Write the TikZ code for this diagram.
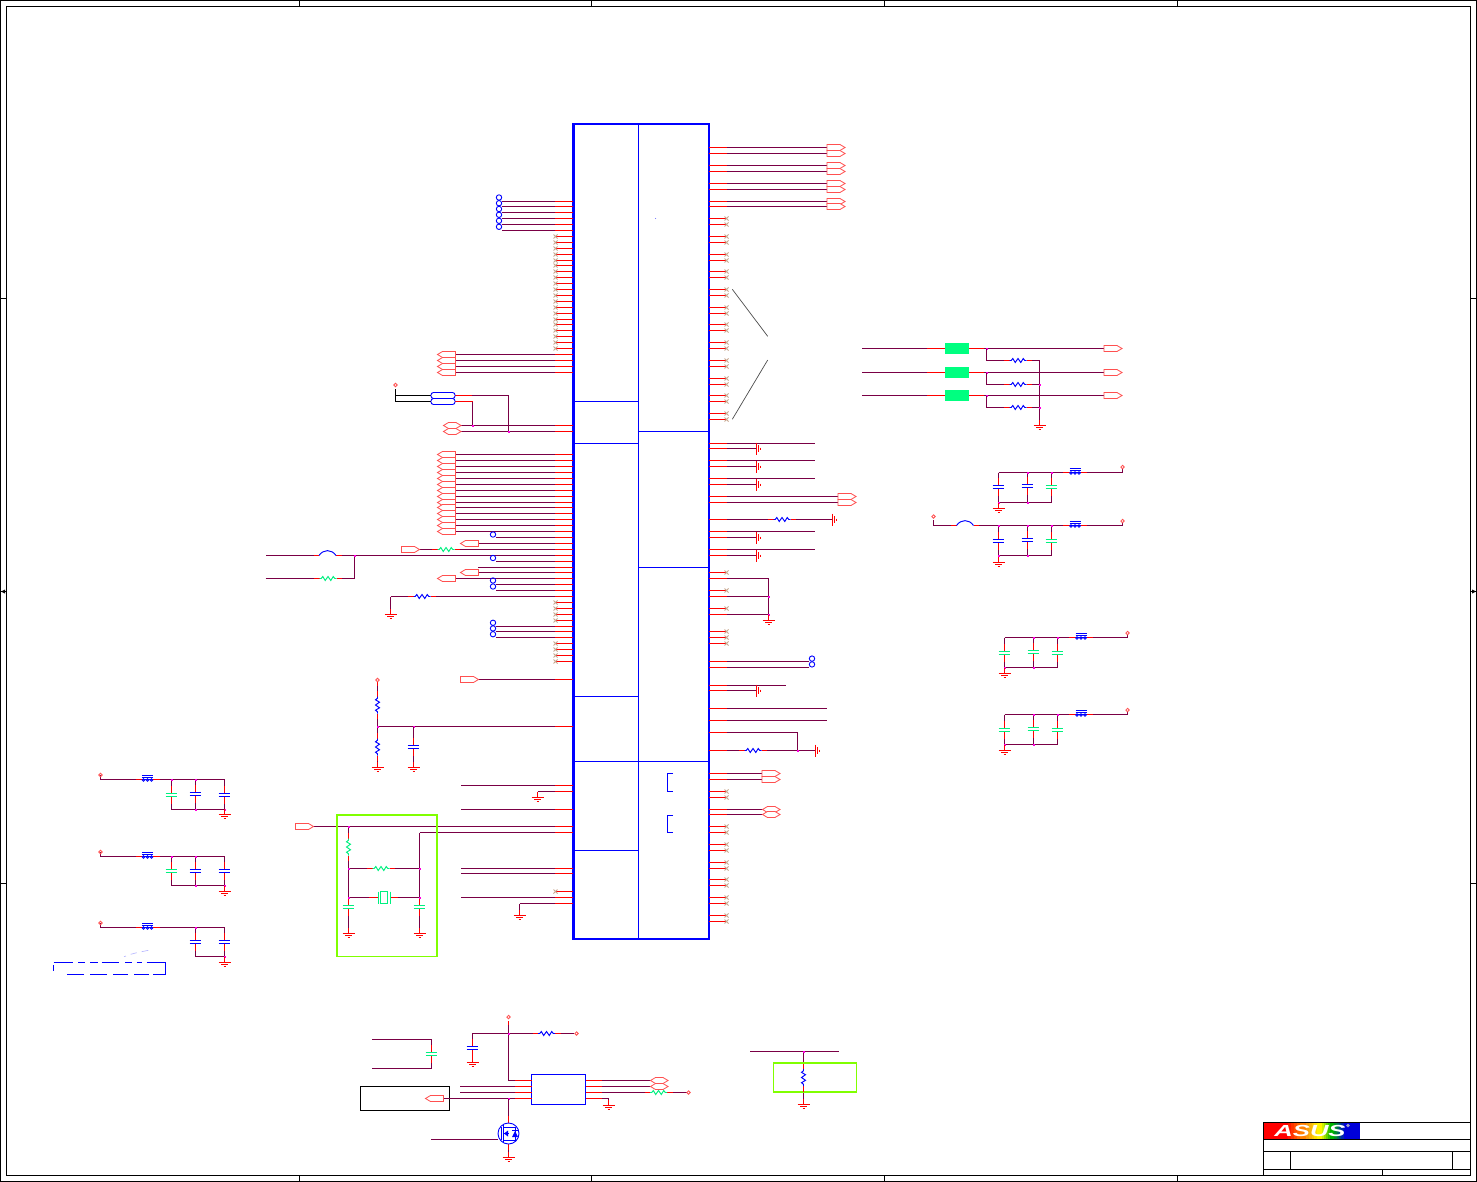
\documentclass[tikz,border=0pt]{standalone}
\usepackage{fontspec}
\usepackage{graphicx}
\setmainfont{Liberation Sans}
\definecolor{wine}{HTML}{7A0045}
\definecolor{pinred}{HTML}{FF0000}
\definecolor{chipblue}{HTML}{0000FF}
\definecolor{capgreen}{HTML}{00F080}
\definecolor{jmag}{HTML}{FF00E0}
\definecolor{limeb}{HTML}{80FF00}
\definecolor{portred}{HTML}{FF5050}
\definecolor{nctan}{HTML}{C8A890}
\definecolor{bgreen}{HTML}{00FF80}
\tikzset{
  wire/.style={draw=wine,line width=1pt},
  stub/.style={draw=pinred,line width=1pt},
  ncx/.style={draw=nctan,line width=0.8pt},
  chipline/.style={draw=chipblue,line width=1pt},
  chipbox/.style={draw=chipblue,line width=2.3pt,inner sep=0pt,outer sep=0pt,minimum width=135.3pt,minimum height=814.8pt},
  ubox/.style={draw=chipblue,line width=1.2pt,inner sep=0pt,outer sep=0pt,minimum width=54pt,minimum height=30pt},
  limebox/.style={draw=limeb,line width=1.9pt},
  conn/.style={draw=portred,line width=0.8pt,fill=white},
  frameline/.style={draw=black,line width=1pt},
  gndline/.style={draw=pinred,line width=1pt},
  blank/.style={fill=white,draw=none},
}
\newcommand\pinL[2]{\draw[wire] (555,#1) -- (#2,#1); \draw[stub] (chip.west |- 0,#1) -- (555,#1);}
\newcommand\pinR[2]{\draw[wire] (727,#1) -- (#2,#1); \draw[stub] (chip.east |- 0,#1) -- (727,#1);}
\newcommand\ncL[1]{\draw[stub] (chip.west |- 0,#1) -- (555.5,#1); \draw[ncx] (553.5,#1-2) -- (557.5,#1+2) (557.5,#1-2) -- (553.5,#1+2);}
\newcommand\ncR[1]{\draw[stub] (chip.east |- 0,#1) -- (726.5,#1); \draw[ncx] (724.5,#1-2) -- (728.5,#1+2) (728.5,#1-2) -- (724.5,#1+2);}
\newcommand\res[4]{\begin{scope}[shift={(#1,#2)},rotate=#3]
  \fill[blank] (-9,-2) rectangle (9,2);
  \draw[stub] (-14,0) -- (-8.5,0) (8.5,0) -- (14,0);
  \draw[draw=#4,line width=0.95pt] (-8.5,0) -- (-6.8,0) -- (-5.2,-2) -- (-2.8,2) -- (0,-2) -- (2.8,2) -- (5.2,-2) -- (6.8,0) -- (8.5,0);
\end{scope}}
\newcommand\capa[3]{\begin{scope}[shift={(#1,#2)}]
  \fill[blank] (-3,-8) rectangle (3,8);
  \draw[stub] (0,-9) -- (0,-1.5) (0,1.5) -- (0,9);
  \draw[draw=#3,line width=1.1pt] (-5.8,-1.5) -- (5.8,-1.5) (-5.8,1.5) -- (5.8,1.5);
\end{scope}}
\newcommand\bead[2]{\begin{scope}[shift={(#1,#2)}]
  \fill[blank] (-7,-5) rectangle (7,3);
  \draw[stub] (-12,0) -- (-5.5,0) (5.5,0) -- (12,0);
  \draw[draw=chipblue,line width=0.9pt] (-5.5,-4) -- (5.5,-4) (-5.5,-2) -- (5.5,-2) (-5.5,0) -- (5.5,0);
  \foreach \k in {-4,0,4} {\draw[draw=chipblue,line width=0.8pt] (\k,0.4) circle (1.3pt);}
\end{scope}}
\newcommand\fuse[2]{\begin{scope}[shift={(#1,#2)}]
  \fill[blank] (-9,-6) rectangle (9,2);
  \draw[stub] (-14,0) -- (-8.5,0) (8.5,0) -- (14,0);
  \draw[draw=chipblue,line width=0.95pt] (-8.5,0) .. controls (-4,-6.5) and (4,-6.5) .. (8.5,0);
\end{scope}}
\newcommand\port[2]{\draw[stub] (#1,#2+2) -- (#1,#2+6); \draw[draw=portred,line width=0.8pt] (#1,#2) circle (1.7pt);}
\newcommand\porth[2]{\draw[draw=portred,line width=0.8pt] (#1,#2) circle (1.7pt);}
\newcommand\jn[2]{\fill[jmag] (#1-1,#2-1) rectangle (#1+1,#2+1);}
\newcommand\oc[2]{\draw[draw=chipblue,line width=0.9pt] (#1,#2) circle (2.7pt);}
\newcommand\gndD[2]{\draw[gndline,line width=1.2pt] (#1-6,#2+.5) -- (#1+6,#2+.5); \draw[gndline] (#1-3.5,#2+2.5) -- (#1+3.5,#2+2.5); \draw[gndline] (#1-1,#2+4.5) -- (#1+1,#2+4.5); \draw[stub] (#1,#2-5) -- (#1,#2);}
\newcommand\gndR[2]{\draw[gndline,line width=1.2pt] (#1+.5,#2-6) -- (#1+.5,#2+6); \draw[gndline] (#1+2.5,#2-3.5) -- (#1+2.5,#2+3.5); \draw[gndline] (#1+4.5,#2-1) -- (#1+4.5,#2+1);}
\newcommand\connR[2]{\draw[conn] (#1,#2-3) -- (#1+13,#2-3) -- (#1+18,#2) -- (#1+13,#2+3) -- (#1,#2+3) -- cycle;}
\newcommand\connL[2]{\draw[conn] (#1+18,#2-3) -- (#1+5,#2-3) -- (#1,#2) -- (#1+5,#2+3) -- (#1+18,#2+3) -- cycle;}
\newcommand\connH[2]{\draw[conn] (#1+5,#2-3) -- (#1+12.5,#2-3) -- (#1+17.5,#2) -- (#1+12.5,#2+3) -- (#1+5,#2+3) -- (#1,#2) -- cycle;}
\begin{document}
\begin{tikzpicture}[x=1pt,y=-1pt]
\useasboundingbox (0,0) rectangle (1477,1182);
\fill[white] (0,0) rectangle (1477,1182);
% frame
\draw[frameline,line width=0.8pt] (0.5,0.5) rectangle (1476.5,1181.5);
\draw[frameline] (6.5,6.5) rectangle (1470.5,1175.5);
\foreach \x in {299.5,591.5,884.5,1177.5} {\draw[frameline,line width=0.7pt] (\x,0.5) -- (\x,6.5) (\x,1175.5) -- (\x,1181.5);}
\foreach \y in {298.5,591.5,883.5} {\draw[frameline,line width=0.7pt] (0.5,\y) -- (6.5,\y) (1470.5,\y) -- (1476.5,\y);}
\fill[black] (1,591.5) -- (5,589.5) -- (5,593.5) -- cycle;
\fill[black] (1476,591.5) -- (1472,589.5) -- (1472,593.5) -- cycle;
% title block
\fill[red] (1263.8,1122.8) rectangle (1285,1138.8);
\foreach \xa/\xb/\ca/\cb in {1285/1303/red/orange,1303/1320/orange/yellow,1320/1332/yellow/green!70!black,1332/1346/green!70!black/blue!85!black} {
  \foreach \t in {0,1,2,3,4,5} {
    \pgfmathsetmacro\xl{\xa+(\xb-\xa)*\t/6}
    \pgfmathsetmacro\xr{\xa+(\xb-\xa)*(\t+1)/6+0.3}
    \pgfmathtruncatemacro\tp{\t*100/5}
    \colorlet{tmpa}{\ca}\colorlet{tmpb}{\cb}
    \fill[tmpb!\tp!tmpa] (\xl,1122.8) rectangle (\xr,1138.8);
  }
}
\fill[blue!85!black] (1346,1122.8) rectangle (1360,1138.8);
\node[inner sep=0pt,text=white] (logo) at (1310,1131) {\scalebox{1.6}[1]{\fontsize{16}{16}\selectfont\bfseries\itshape ASUS}};
\fill[blue!25!gray!60!white] (1348,1125.5) circle (1.8pt);
\draw[frameline] (1263.5,1175.5) -- (1263.5,1122.5) -- (1470.5,1122.5);
\draw[frameline] (1263.5,1139.5) -- (1470.5,1139.5) (1263.5,1151.5) -- (1470.5,1151.5) (1263.5,1169.5) -- (1470.5,1169.5);
\draw[frameline] (1290.5,1151.5) -- (1290.5,1169.5) (1452.5,1151.5) -- (1452.5,1169.5) (1382.5,1169.5) -- (1382.5,1175.5);
% chip
\node[chipbox] (chip) at (641,531.6) {};
\draw[chipline] (638.5,124) -- (638.5,939);
\foreach \y in {401.5,443.5,696.5,761.5,850.5} {\draw[chipline] (573,\y) -- (638.5,\y);}
\foreach \y in {431.5,567.5,761.5} {\draw[chipline] (638.5,\y) -- (709,\y);}
\fill[chipblue!60] (655.5,218.5) circle (0.5pt);
\draw[chipline] (673,773.5) -- (667.5,773.5) -- (667.5,791.5) -- (673,791.5);
\draw[chipline] (673,815.5) -- (667.5,815.5) -- (667.5,832.5) -- (673,832.5);
% left pins: test points
\foreach \y in {201.5,206.5,212.5,218.5,224.5,230.5} {\pinL{\y}{502}}
\foreach \y in {197.5,203.2,209,214.8,220.8,226.8} {\oc{499}{\y}}
\foreach \y in {236.5,242.5,248.5,254.5,260.5,265.5,271.5,277.5,283.5,289.5,295.5,301.5,307.5,313.5,319.5,324.5,330.5,336.5,342.5,348.5} {\ncL{\y}}
\foreach \y in {354.5,360.5,366.5,372.5} {\pinL{\y}{455}}
\foreach \y in {354.5,360.5,366.5,372.5} {\connL{437.5}{\y}}
% capsule group
\draw[draw=black,line width=0.8pt] (395.5,389) -- (395.5,401.5) -- (431,401.5) (395.5,395.5) -- (431,395.5);
\draw[draw=portred,line width=0.8pt] (395.5,385) circle (1.7pt);
\pinL{425.5}{460} \pinL{431.5}{460}
\draw[stub] (455,395.5) -- (472,395.5); \draw[wire] (472,395.5) -- (508.5,395.5) -- (508.5,431.5);
\draw[stub] (455,401.5) -- (472.5,401.5); \draw[wire] (472.5,401.5) -- (472.5,425.5);
\jn{472.5}{425.5} \jn{508.5}{431.5}
\draw[draw=chipblue,line width=0.9pt,rounded corners=2.5pt] (431,392.5) rectangle (455,398.5);
\draw[draw=chipblue,line width=0.9pt,rounded corners=2.5pt] (431,398.5) rectangle (455,404.5);
\connH{443.5}{425.5} \connH{443.5}{431.5}
% big bus
\foreach \y in {454.5,460.5,466.5,472.5,478.5,484.5,490.5,496.5,502.5,507.5,513.5,519.5,525.5,531.5} {\pinL{\y}{455} \connL{437.5}{\y}}
\pinL{537.5}{496} \oc{493}{534.5}
\pinL{543.5}{478} \connL{460.5}{543.5}
\pinL{549.5}{418}
\connR{401.5}{549.5} \res{446}{549.5}{0}{capgreen}
\pinL{555.5}{265.5}
\fuse{327.5}{555.5}
\draw[wire] (265.5,578.5) -- (354.5,578.5) -- (354.5,555.5);
\res{328}{578.5}{0}{capgreen}
\jn{354.5}{555.5}
\pinL{561.5}{496} \oc{493}{558}
\pinL{567.5}{478}
\pinL{572.5}{478} \connL{460.5}{572.5}
\pinL{578.5}{455} \connL{437.5}{578.5}
\pinL{584.5}{496} \oc{493}{580.5}
\pinL{590.5}{496} \oc{493}{586.5}
\pinL{596.5}{390.5}
\draw[wire] (390.5,596.5) -- (390.5,610);
\res{422}{596.5}{0}{chipblue}
\gndD{390.5}{614}
\foreach \y in {602.5,608.5,614.5,620.5,643.5,649.5,655.5,661.5} {\ncL{\y}}
\pinL{626.5}{496} \pinL{631.5}{496} \pinL{637.5}{496}
\oc{493}{622.8} \oc{493}{628.4} \oc{493}{634.2}
\pinL{679.5}{478} \connR{460.5}{679.5}
% divider
\pinL{726.5}{377.5}
\draw[wire] (377.5,686) -- (377.5,762);
\res{377.5}{705}{90}{chipblue} \res{377.5}{747}{90}{chipblue}
\port{377.5}{680}
\jn{377.5}{726.5} \jn{413.5}{726.5}
\draw[wire] (413.5,726.5) -- (413.5,762);
\capa{413.5}{747}{chipblue}
\gndD{377.5}{767} \gndD{413.5}{767}
% lower left pins
\pinL{785.5}{461}
\pinL{791.5}{537.5} \draw[wire] (537.5,791.5) -- (537.5,793); \gndD{537.5}{797}
\pinL{809.5}{461}
\pinL{826.5}{312}
\connR{295.5}{826.5}
\pinL{832.5}{419.5}
\pinL{868.5}{461} \pinL{873.5}{461}
\ncL{891.5}
\pinL{897.5}{461}
\pinL{903.5}{519.5} \draw[wire] (519.5,903.5) -- (519.5,910); \gndD{519.5}{915}
% crystal box
\draw[limebox] (337,815) rectangle (437,956.5);
\draw[wire] (348.5,826.5) -- (348.5,930);
\draw[wire] (419.5,832.5) -- (419.5,930);
\draw[wire] (348.5,868.5) -- (419.5,868.5) (348.5,897.5) -- (419.5,897.5);
\res{348.5}{847}{90}{capgreen}
\res{381}{868.5}{0}{capgreen}
\fill[blank] (376,890) rectangle (392,905);
\draw[stub] (369,897.5) -- (378,897.5) (390.5,897.5) -- (398,897.5);
\draw[draw=capgreen,line width=1.1pt] (380.5,891.5) rectangle (387.5,903.5) (378.5,891.5) -- (378.5,903.5) (390.5,891.5) -- (390.5,903.5);
\capa{348.5}{907}{capgreen} \capa{419.5}{907}{capgreen}
\gndD{348.5}{933} \gndD{419.5}{933}
\jn{348.5}{826.5} \jn{348.5}{868.5} \jn{419.5}{868.5} \jn{348.5}{897.5} \jn{419.5}{897.5}
% right pins: connectors
\foreach \y in {147.5,153.5,165.5,171.5,183.5,189.5,201.5,206.5} {\pinR{\y}{827} \connR{827}{\y}}
\foreach \y in {218.5,224.5,236.5,242.5,254.5,260.5,271.5,277.5,289.5,295.5,307.5,313.5,324.5,330.5,342.5,348.5,360.5,366.5,378.5,384.5,395.5,401.5,413.5,419.5} {\ncR{\y}}
\draw[draw=black!70,line width=0.7pt] (732.3,289.3) -- (767.7,336.3) (732.3,419.3) -- (767.7,360);
% right pins: grounds
\foreach \y in {443.5,460.5,478.5,531.5,549.5} {\pinR{\y}{815}}
\foreach \y in {448.5,466.5,484.5,537.5,555.5} {\pinR{\y}{757} \gndR{756}{\y}}
\pinR{496.5}{838} \pinR{502.5}{838} \connR{838}{496.5} \connR{838}{502.5}
\pinR{519.5}{832} \res{782}{519.5}{0}{chipblue} \gndR{832}{519.5}
\foreach \y in {572.5,590.5,608.5,631.5,637.5,643.5} {\ncR{\y}}
\foreach \y in {578.5,596.5,614.5} {\pinR{\y}{768.5}}
\draw[wire] (768.5,578.5) -- (768.5,616);
\jn{768.5}{596.5} \jn{768.5}{614.5}
\gndD{768.5}{620}
\pinR{661.5}{809} \pinR{667.5}{809} \oc{812}{658.6} \oc{812}{664.4}
\pinR{685.5}{785.5}
\pinR{690.5}{757} \gndR{756}{690.5}
\pinR{708.5}{827} \pinR{720.5}{827}
\pinR{732.5}{797.5} \draw[wire] (797.5,732.5) -- (797.5,750.5);
\pinR{750.5}{815} \res{753}{750.5}{0}{chipblue} \jn{797.5}{750.5} \gndR{815}{750.5}
\pinR{773.5}{762} \pinR{779.5}{762} \connR{762}{773.5} \connR{762}{779.5}
\ncR{791.5} \ncR{797.5}
\pinR{809.5}{762} \pinR{814.5}{762} \connH{762.5}{809.5} \connH{762.5}{814.5}
\foreach \y in {826.5,832.5,844.5,850.5,862.5,868.5,879.5,885.5,897.5,903.5,915.5,921.5} {\ncR{\y}}
% right-hand termination group
\foreach \y in {348.5,372.5,395.5} {
  \draw[wire] (862,\y) -- (1104,\y);
  \draw[stub] (927,\y) -- (945,\y) (969,\y) -- (984,\y);
  \fill[bgreen] (945,\y-5.5) rectangle (969,\y+5.5);
  \connR{1104}{\y}
  \jn{986.5}{\y}
}
\draw[wire] (986.5,348.5) -- (986.5,360.5) -- (1039.5,360.5) -- (1039.5,420);
\draw[wire] (986.5,372.5) -- (986.5,384.5) -- (1039.5,384.5);
\draw[wire] (986.5,395.5) -- (986.5,407.5) -- (1039.5,407.5);
\res{1018}{360.5}{0}{chipblue} \res{1018}{384.5}{0}{chipblue} \res{1018}{407.5}{0}{chipblue}
\jn{1039.5}{384.5} \jn{1039.5}{407.5}
\gndD{1039.5}{425}
% filter groups, right
\draw[wire] (998.5,472.5) -- (1122.5,472.5) -- (1122.5,469);
\draw[wire] (998.5,472.5) -- (998.5,502.5) -- (1051.5,502.5) -- (1051.5,472.5) (1027.5,472.5) -- (1027.5,502.5);
\capa{998.5}{487}{chipblue} \capa{1027.5}{486}{chipblue} \capa{1051.5}{487}{capgreen}
\bead{1075}{472.5} \draw[draw=portred,line width=0.8pt] (1122.5,467) circle (1.7pt);
\jn{1027.5}{472.5} \jn{1051.5}{472.5} \jn{998.5}{502.5} \jn{1027.5}{502.5} \gndD{998.5}{508}
%
\draw[wire] (933.5,520) -- (933.5,525.5) -- (1122.5,525.5) -- (1122.5,522);
\draw[wire] (998.5,525.5) -- (998.5,555.5) -- (1051.5,555.5) -- (1051.5,525.5) (1027.5,525.5) -- (1027.5,555.5);
\capa{998.5}{541}{chipblue} \capa{1027.5}{540}{chipblue} \capa{1051.5}{541}{capgreen}
\bead{1075}{525.5} \fuse{965}{525.5}
\draw[draw=portred,line width=0.8pt] (1122.5,521) circle (1.7pt) (933.5,516.5) circle (1.7pt);
\jn{998.5}{525.5} \jn{1027.5}{525.5} \jn{1051.5}{525.5} \jn{998.5}{555.5} \jn{1027.5}{555.5} \gndD{998.5}{562}
%
\draw[wire] (1004.5,637.5) -- (1127.5,637.5) -- (1127.5,634.5);
\draw[wire] (1004.5,637.5) -- (1004.5,667.5) -- (1057.5,667.5) -- (1057.5,637.5) (1033.5,637.5) -- (1033.5,667.5);
\capa{1004.5}{653}{capgreen} \capa{1033.5}{652}{capgreen} \capa{1057.5}{653}{capgreen}
\bead{1081}{637.5} \draw[draw=portred,line width=0.8pt] (1127.5,633) circle (1.7pt);
\jn{1033.5}{637.5} \jn{1057.5}{637.5} \jn{1004.5}{667.5} \jn{1033.5}{667.5} \gndD{1004.5}{673}
%
\draw[wire] (1004.5,714.5) -- (1127.5,714.5) -- (1127.5,711.5);
\draw[wire] (1004.5,714.5) -- (1004.5,744.5) -- (1057.5,744.5) -- (1057.5,714.5) (1033.5,714.5) -- (1033.5,744.5);
\capa{1004.5}{730}{capgreen} \capa{1033.5}{729}{capgreen} \capa{1057.5}{730}{capgreen}
\bead{1081}{714.5} \draw[draw=portred,line width=0.8pt] (1127.5,710) circle (1.7pt);
\jn{1033.5}{714.5} \jn{1057.5}{714.5} \jn{1004.5}{744.5} \jn{1033.5}{744.5} \gndD{1004.5}{750}
% filter groups, left
\draw[wire] (100.5,775) -- (100.5,779.5) -- (224.5,779.5) -- (224.5,809.5) -- (171.5,809.5) -- (171.5,779.5) (195.5,779.5) -- (195.5,809.5);
\capa{171.5}{795}{capgreen} \capa{195.5}{794}{chipblue} \capa{224.5}{795}{chipblue}
\bead{147.5}{779.5} \draw[draw=portred,line width=0.8pt] (100.5,775) circle (1.7pt);
\jn{171.5}{779.5} \jn{195.5}{779.5} \jn{195.5}{809.5} \jn{224.5}{809.5} \gndD{224.5}{814}
%
\draw[wire] (100.5,852) -- (100.5,856.5) -- (224.5,856.5) -- (224.5,885.5) -- (171.5,885.5) -- (171.5,856.5) (195.5,856.5) -- (195.5,885.5);
\capa{171.5}{871}{capgreen} \capa{195.5}{871}{chipblue} \capa{224.5}{871}{chipblue}
\bead{147.5}{856.5} \draw[draw=portred,line width=0.8pt] (100.5,852) circle (1.7pt);
\jn{171.5}{856.5} \jn{195.5}{856.5} \jn{195.5}{885.5} \jn{224.5}{885.5} \gndD{224.5}{891}
%
\draw[wire] (100.5,923) -- (100.5,927.5) -- (224.5,927.5) -- (224.5,956.5) -- (195.5,956.5) -- (195.5,927.5);
\capa{195.5}{942}{chipblue} \capa{224.5}{942}{chipblue}
\bead{147.5}{927.5} \draw[draw=portred,line width=0.8pt] (100.5,923) circle (1.7pt);
\jn{195.5}{927.5} \jn{224.5}{956.5} \gndD{224.5}{962}
% dashed note frame
\draw[draw=chipblue,line width=0.9pt] (53.5,962.5) -- (73,962.5) (78.3,962.5) -- (85,962.5) (90,962.5) -- (97.5,962.5) (101.7,962.5) -- (119.3,962.5) (125,962.5) -- (131.7,962.5) (136.7,962.5) -- (141.7,962.5) (146.7,962.5) -- (165.5,962.5) -- (165.5,974.5) -- (153,974.5) (149,974.5) -- (133.5,974.5) (128,974.5) -- (113,974.5) (107,974.5) -- (90,974.5) (84,974.5) -- (67,974.5) (53.5,965) -- (53.5,971);
\draw[draw=blue!30,line width=0.6pt] (124,956.7) -- (126,956) (130.7,954.3) -- (136.7,952.7) (141.7,951.7) -- (148.3,950.3);
% bottom circuit: left cap
\draw[wire] (372,1039.5) -- (431.5,1039.5) -- (431.5,1068.5) -- (372,1068.5);
\capa{431.5}{1054}{capgreen}
% bottom circuit: regulator
\node[ubox,anchor=north west] (ureg) at (531.5,1074.5) {};
\draw[wire] (508.5,1021) -- (508.5,1080.5);
\draw[wire] (508.5,1033.5) -- (472.5,1033.5) -- (472.5,1058);
\draw[wire] (508.5,1033.5) -- (574,1033.5);
\capa{472.5}{1048}{chipblue}
\gndD{472.5}{1062}
\res{546.5}{1033.5}{0}{chipblue}
\draw[stub] (508.5,1021) -- (508.5,1025);
\draw[draw=portred,line width=0.8pt] (508.5,1017) circle (1.7pt) (576.5,1033.5) circle (1.7pt);
\jn{508.5}{1033.5}
\draw[draw=black,line width=0.9pt] (360.5,1086.5) rectangle (449.5,1110.5);
\foreach \y/\x in {1080.5/508.5,1086.5/460,1092.5/460,1098.5/443} {
  \draw[wire] (\x,\y) -- (515,\y);
  \draw[stub] (515,\y) -- (ureg.west |- 0,\y);
}
\connL{425.5}{1098.5}
\foreach \y in {1080.5,1086.5,1092.5,1098.5} {\draw[stub] (ureg.east |- 0,\y) -- (602,\y);}
\draw[wire] (602,1080.5) -- (650,1080.5) (602,1086.5) -- (650,1086.5) (602,1092.5) -- (686.5,1092.5);
\connH{650.5}{1080.5} \connH{650.5}{1086.5}
\res{658.5}{1092.5}{0}{capgreen}
\porth{688.5}{1092.5}
\draw[wire] (602,1098.5) -- (608.5,1098.5) -- (608.5,1100);
\gndD{608.5}{1105}
\jn{508.5}{1098.5}
\draw[wire] (508.5,1098.5) -- (508.5,1122.8) (508.5,1144) -- (508.5,1157) (431,1139.5) -- (497.5,1139.5);
\draw[stub] (508.5,1116) -- (508.5,1122.8) (508.5,1144) -- (508.5,1150);
\gndD{508.5}{1157}
% MOSFET
\draw[draw=chipblue,line width=0.9pt] (508.5,1133.5) circle (10.5pt);
\draw[draw=chipblue,line width=0.9pt] (501.5,1139.5) -- (501.5,1127) (503.5,1125) -- (503.5,1142) (503.5,1127.5) -- (515.5,1127.5) (503.5,1133.5) -- (508.5,1133.5) (503.5,1140.5) -- (515.5,1140.5) (515.5,1127.5) -- (515.5,1140.5);
\fill[chipblue] (504,1133.5) -- (508,1130.5) -- (508,1136.5) -- cycle;
\fill[chipblue] (512,1137) -- (518,1137) -- (515,1131) -- cycle;
\draw[draw=chipblue,line width=0.9pt] (512,1130.5) -- (518,1130.5);
% pull-down
\draw[wire] (750,1051.5) -- (838.5,1051.5);
\draw[wire] (803.5,1051.5) -- (803.5,1100);
\draw[limebox] (773.5,1063) rectangle (856.5,1092);
\res{803.5}{1077.5}{90}{chipblue}
\jn{803.5}{1051.5}
\gndD{803.5}{1104}
\end{tikzpicture}
\end{document}
